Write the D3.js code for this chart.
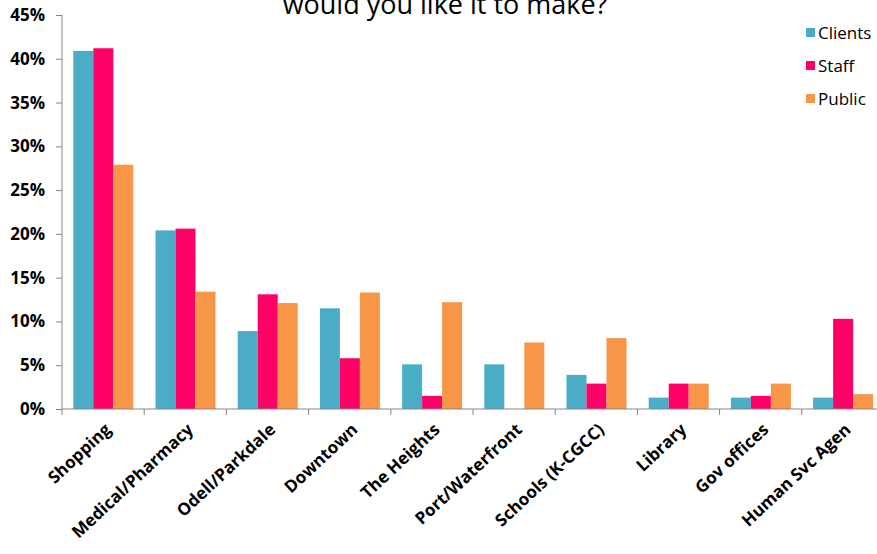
<!DOCTYPE html>
<html><head><meta charset="utf-8">
<script src="https://cdn.jsdelivr.net/npm/d3@7"></script>
<style>body{margin:0;background:#fff}svg{display:block}</style>
</head><body>
<script>
const categories = ["Shopping","Medical/Pharmacy","Odell/Parkdale","Downtown","The Heights","Port/Waterfront","Schools (K-CGCC)","Library","Gov offices","Human Svc Agen"];
const seriesNames = ["Clients","Staff","Public"];
const clients = [40.9, 20.4, 8.9, 11.5, 5.1, 5.1, 3.9, 1.3, 1.3, 1.3];
const staff   = [41.2, 20.6, 13.1, 5.8, 1.5, 0, 2.9, 2.9, 1.5, 10.3];
const publicV = [27.9, 13.4, 12.1, 13.3, 12.2, 7.6, 8.1, 2.9, 2.9, 1.7];
const colors = ["#4BACC6","#FF0066","#F79646"];
const yTicks = [0,5,10,15,20,25,30,35,40,45];
const titleText = "would you like it to make?";

const W = 877, H = 554;
const svg = d3.select("body").append("svg").attr("width", W).attr("height", H);
const x0 = d3.scaleBand().domain(categories).range([62, 884]).padding(0);
const x1 = d3.scaleBand().domain(seriesNames).range([11.3, 71.3]).padding(0);
const y = d3.scaleLinear().domain([0, 45]).range([409, 15]);

const values = [clients, staff, publicV];

// title (partially cut at top, as in the reference)
svg.append("text").attr("x", 445).attr("y", 14).attr("text-anchor","middle")
  .attr("font-family","Open Sans").attr("font-size", 27).attr("fill","#000").text(titleText);

// bars
const g = svg.append("g");
categories.forEach((c, i) => {
  seriesNames.forEach((s, j) => {
    const v = values[j][i];
    if (v <= 0) return;
    g.append("rect")
      .attr("x", x0(c) + x1(s)).attr("width", x1.bandwidth())
      .attr("y", y(v)).attr("height", y(0) - y(v))
      .attr("fill", colors[j]);
  });
});

// y axis
const yAxis = svg.append("g").attr("transform","translate(62,0)")
  .call(d3.axisLeft(y).tickValues(yTicks).tickFormat(d => d + "%").tickSize(6).tickPadding(11));
yAxis.select(".domain").attr("stroke","#868686").attr("d","M0,15V409");
yAxis.selectAll(".tick line").attr("stroke","#868686");
yAxis.selectAll("text").attr("font-family","Open Sans").attr("font-weight","bold")
  .attr("font-size",17).attr("fill","#000");

// x axis
const xAxis = svg.append("g").attr("transform","translate(0,409)");
xAxis.append("line").attr("x1",62).attr("x2",884).attr("y1",0).attr("y2",0).attr("stroke","#868686");
const bounds = categories.map(c => x0(c)).concat([x0.range()[1]]);
xAxis.selectAll("line.tk").data(bounds).enter().append("line").attr("class","tk")
  .attr("x1", d => d).attr("x2", d => d).attr("y1", 0).attr("y2", 6).attr("stroke","#868686");
xAxis.selectAll("text").data(categories).enter().append("text")
  .attr("transform", d => `translate(${x0(d) + x0.bandwidth()/2 + 9},${22}) rotate(-43)`)
  .attr("text-anchor","end").attr("font-family","Open Sans").attr("font-weight","bold")
  .attr("font-size",17).attr("fill","#000").text(d => d);

// legend
const lg = svg.append("g");
seriesNames.forEach((s, j) => {
  const yy = 28 + j * 33;
  lg.append("rect").attr("x", 806).attr("y", yy).attr("width", 9).attr("height", 9).attr("fill", colors[j]);
  lg.append("text").attr("x", 818).attr("y", yy + 10.5).attr("font-family","Open Sans")
    .attr("font-size", 17).attr("fill","#000").text(s);
});
</script>
</body></html>
